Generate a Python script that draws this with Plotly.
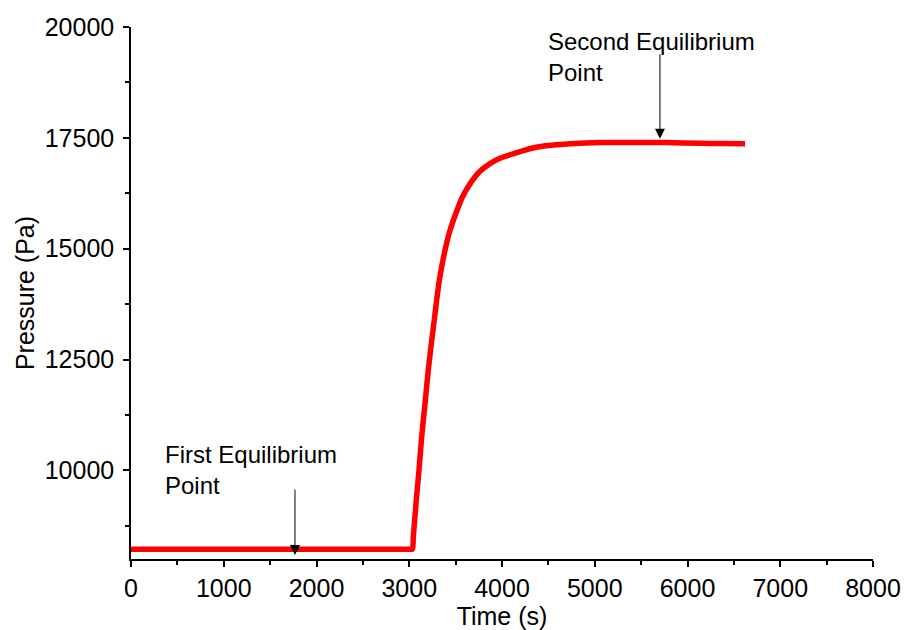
import plotly.graph_objects as go

# Data
time_s = [0, 500, 1000, 1500, 2000, 2500, 3000, 3033, 3044, 3073, 3105, 3134, 3170, 3205,
          3234, 3278, 3324, 3393, 3439, 3501, 3572, 3655, 3760, 3871, 3978, 4162, 4334, 4500,
          4700, 4900, 5057, 5412, 5779, 6135, 6400, 6620]
pressure_pa = [8220, 8220, 8220, 8220, 8220, 8220, 8220, 8220, 8502, 9255, 10005, 10754, 11507, 12257,
               12782, 13534, 14284, 15034, 15410, 15786, 16160, 16462, 16740, 16919, 17040, 17167, 17270, 17325,
               17362, 17383, 17392, 17395, 17392, 17378, 17372, 17369]

x_ticks = [0, 1000, 2000, 3000, 4000, 5000, 6000, 7000, 8000]
y_ticks = [10000, 12500, 15000, 17500, 20000]

annot_texts = ["First Equilibrium<br>Point", "Second Equilibrium<br>Point"]
annot_pos = [(356, 10680), (4485, 19990)]
arrow_tail = [(1768, 9600), (5703, 19420)]
arrow_tip = [(1768, 8090), (5703, 17480)]

FONT = "Liberation Sans, Arial, sans-serif"

fig = go.Figure()
fig.add_trace(go.Scatter(x=time_s, y=pressure_pa, mode="lines",
                         line=dict(color="#ff0000", width=5.5, shape="spline", smoothing=0.7),
                         showlegend=False, hoverinfo="skip"))

for (tx, ty), txt in zip(annot_pos, annot_texts):
    fig.add_annotation(x=tx, y=ty, xref="x", yref="y", text=txt, showarrow=False,
                       xanchor="left", yanchor="top", align="left",
                       font=dict(family=FONT, size=24, color="black"), borderpad=0)

for (ax, ay), (hx, hy) in zip(arrow_tail, arrow_tip):
    fig.add_annotation(x=hx, y=hy, ax=ax, ay=ay, xref="x", yref="y", axref="x", ayref="y",
                       text="", showarrow=True, arrowhead=2, arrowsize=2,
                       arrowwidth=1, arrowcolor="black")

axis_common = dict(showline=True, linecolor="black", linewidth=1.5, ticks="outside",
                   ticklen=6, tickwidth=1.5, tickcolor="black", showgrid=False,
                   zeroline=False, mirror=False, automargin=False,
                   tickfont=dict(family=FONT, size=25, color="black"))

fig.update_xaxes(range=[0, 8000], tickvals=x_ticks, ticktext=[str(v) for v in x_ticks],
                 minor=dict(dtick=500, tick0=0, ticks="outside", ticklen=4,
                            tickwidth=1.5, tickcolor="black", showgrid=False),
                 title=dict(text="Time (s)", font=dict(family=FONT, size=25, color="black"),
                            standoff=4),
                 **axis_common)
fig.update_yaxes(range=[8000, 20000], tickvals=y_ticks, ticktext=[str(v) for v in y_ticks],
                 minor=dict(dtick=1250, tick0=0, ticks="outside", ticklen=4,
                            tickwidth=1.5, tickcolor="black", showgrid=False),
                 ticklabelstandoff=4,
                 title=dict(text="Pressure (Pa)", font=dict(family=FONT, size=25, color="black"),
                            standoff=3),
                 **axis_common)

fig.update_layout(width=908, height=630, plot_bgcolor="white", paper_bgcolor="white",
                  margin=dict(l=131, r=35, t=27, b=71), showlegend=False)

fig.write_html("out.html")
